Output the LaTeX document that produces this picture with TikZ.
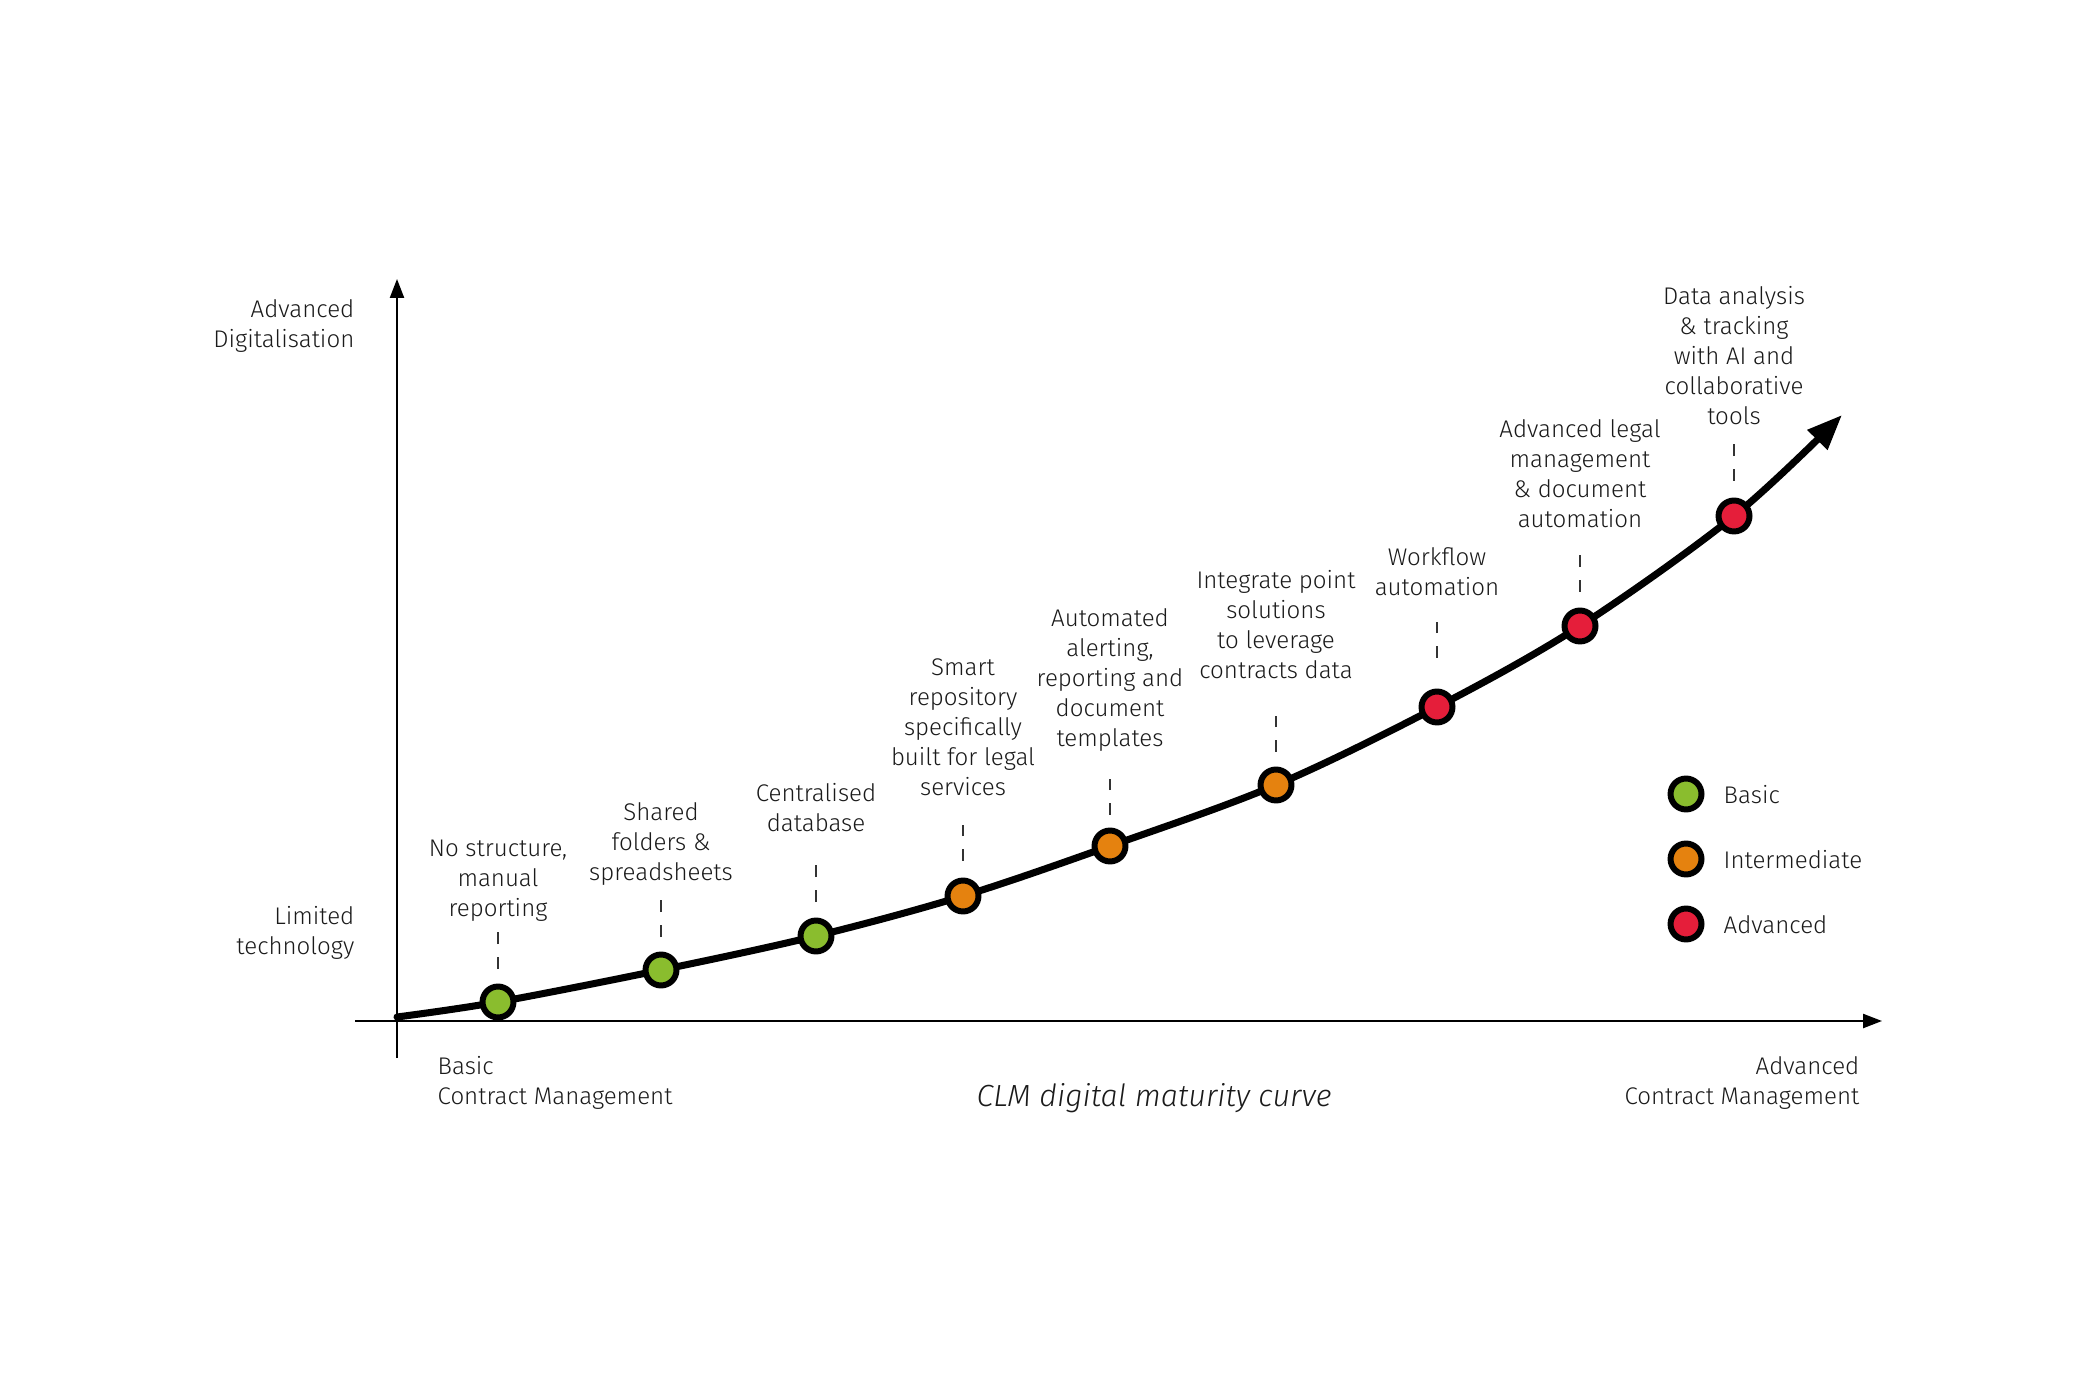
\documentclass[tikz,border=0pt]{standalone}
\usepackage{fontspec}
\setmainfont{Fira Sans}[UprightFont=* Light, ItalicFont=* Light Italic]
\usetikzlibrary{arrows.meta}
\definecolor{cgreen}{HTML}{8ABD2E}
\definecolor{corange}{HTML}{E5820F}
\definecolor{cred}{HTML}{E51E3A}
\definecolor{ctext}{HTML}{1A1A1A}
\begin{document}
\begin{tikzpicture}[x=0.01cm,y=-0.01cm,
  lbl/.style={font=\fontsize{6.85pt}{8.5pt}\selectfont, text=ctext, inner sep=0pt, align=center},
  dot/.style={circle, draw=black, line width=1.7pt, minimum size=8.8pt, inner sep=0pt},
  basicdot/.style={dot, fill=cgreen},
  interdot/.style={dot, fill=corange},
  advdot/.style={dot, fill=cred},
  guide/.style={draw=black!80, line width=0.45pt, dash pattern=on 3.4pt off 3.7pt},
  axis/.style={line width=0.6pt, -{Triangle[length=5.4pt,width=4pt]}}
]
\useasboundingbox (0,0) rectangle (2076,1386);

% axes
\coordinate (yb) at (397,1058);
\coordinate (yt) at (397,279);
\coordinate (xl) at (355,1021);
\coordinate (xr) at (1882,1021);
\draw[axis] (yb) -- (yt);
\draw[axis] (xl) -- (xr);

% curve
\draw[line width=2pt, line cap=round, -{Triangle[length=10pt,width=7.6pt]}]
  plot[smooth, tension=0.55] coordinates {(397,1017) (498,1002) (661,970) (816,936) (963,896) (1110,846) (1276,785) (1437,707) (1580,626) (1734,516) (1842,415)};

% dots
\node[basicdot] (d1) at (498,1002) {};
\node[basicdot] (d2) at (661,970) {};
\node[basicdot] (d3) at (816,936) {};
\node[interdot] (d4) at (963,896) {};
\node[interdot] (d5) at (1110,846) {};
\node[interdot] (d6) at (1276,785) {};
\node[advdot] (d7) at (1437,707) {};
\node[advdot] (d8) at (1580,626) {};
\node[advdot] (d9) at (1734,516) {};

% guides
\foreach \i/\x/\ya/\yb in {1/498/969/932,2/661/937/900,3/816/902/865,4/963/861/825,5/1110/815/779,6/1276/752/716,7/1437/658/622,8/1580/592/554,9/1734/481/443}{
  \coordinate (g\i a) at (\x,\ya);
  \coordinate (g\i b) at (\x,\yb);
  \draw[guide] (g\i a) -- (g\i b);
}

% labels
\node[lbl, anchor=south] (l1) at (498,922) {No structure,\\manual\\reporting};
\node[lbl, anchor=south] (l2) at (661,886) {Shared\\folders \&\\spreadsheets};
\node[lbl, anchor=south] (l3) at (816,832) {Centralised\\database};
\node[lbl, anchor=south] (l4) at (963,796) {Smart\\repository\\specifically\\built for legal\\services};
\node[lbl, anchor=south] (l5) at (1110,752) {Automated\\alerting,\\reporting and\\document\\templates};
\node[lbl, anchor=south] (l6) at (1276,679) {Integrate point\\solutions\\to leverage\\contracts data};
\node[lbl, anchor=south] (l7) at (1437,596) {Workflow\\automation};
\node[lbl, anchor=south] (l8) at (1580,528) {Advanced legal\\management\\\& document\\automation};
\node[lbl, anchor=south] (l9) at (1734,425) {Data analysis\\\& tracking\\with AI and\\collaborative\\tools};

% axis labels
\node[lbl, align=right, anchor=north east] (ya) at (355,299) {Advanced\\Digitalisation};
\node[lbl, align=right, anchor=north east] (yl) at (355,906) {Limited\\technology};
\node[lbl, align=left, anchor=north west] (xb) at (437,1056) {Basic\\Contract Management};
\node[lbl, align=right, anchor=north east] (xa) at (1860,1056) {Advanced\\Contract Management};
\node[lbl, font=\fontsize{8.7pt}{10pt}\selectfont\itshape] (title) at (1154,1098) {CLM digital maturity curve};

% legend
\node[basicdot] (k1) at (1686,794) {};
\node[interdot] (k2) at (1686,859) {};
\node[advdot] (k3) at (1686,924) {};
\node[lbl, anchor=west] (k1t) at (1723,795) {Basic};
\node[lbl, anchor=west] (k2t) at (1723,860) {Intermediate};
\node[lbl, anchor=west] (k3t) at (1723,925) {Advanced};
\end{tikzpicture}
\end{document}
